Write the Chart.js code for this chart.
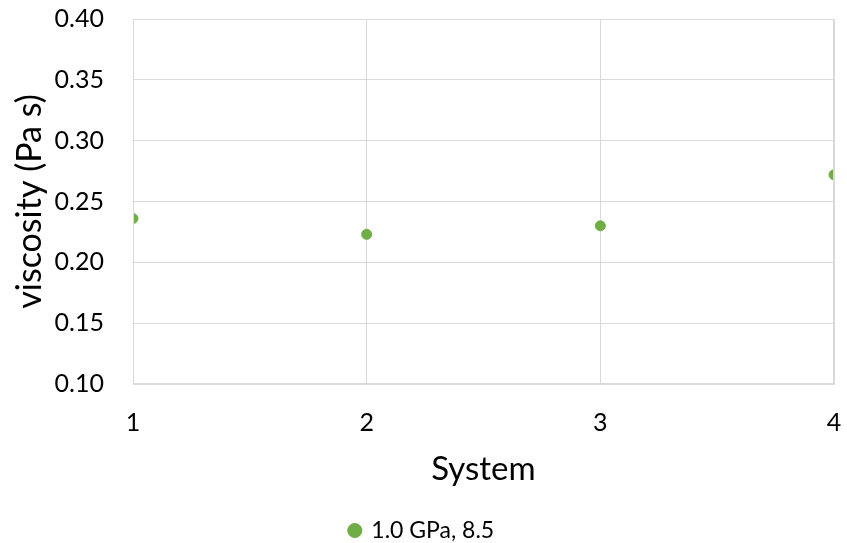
<!DOCTYPE html>
<html>
<head>
<meta charset="utf-8">
<script src="https://cdn.jsdelivr.net/npm/chart.js@4"></script>
<style>
  html, body { margin: 0; padding: 0; background: #fff; }
  #wrap { width: 847px; height: 543px; }
</style>
</head>
<body>
<div id="wrap"><canvas id="chart1"></canvas></div>
<script>
// data
var systems = [1, 2, 3, 4];
var viscosity = [0.236, 0.223, 0.230, 0.272];
var seriesName = '1.0 GPa, 8.5';

var fontFamily = "Lato, 'Open Sans', sans-serif";
var gridColor = '#d9d9d9';

var points = systems.map(function (s, i) {
    return { x: s, y: viscosity[i] };
});

var chartEl = document.getElementById('chart1');
new Chart(chartEl, {
    type: 'scatter',
    data: {
        datasets: [{
            label: seriesName,
            data: points,
            backgroundColor: '#70ad47',
            borderColor: '#70ad47',
            pointRadius: 5,
            pointHoverRadius: 5
        }]
    },
    options: {
        responsive: true,
        maintainAspectRatio: false,
        animation: false,
        layout: {
            padding: { top: 19, right: 13, bottom: -9, left: 10 }
        },
        plugins: {
            legend: {
                position: 'bottom',
                labels: {
                    usePointStyle: true,
                    pointStyle: 'circle',
                    boxWidth: 10,
                    boxHeight: 10,
                    color: '#000',
                    padding: 2,
                    font: { family: fontFamily, size: 23 }
                }
            },
            tooltip: { enabled: false }
        },
        scales: {
            x: {
                type: 'linear',
                min: 1,
                max: 4,
                ticks: {
                    stepSize: 1,
                    color: '#000',
                    padding: 24,
                    font: { family: fontFamily, size: 25 }
                },
                grid: { color: gridColor, drawTicks: false },
                border: { color: gridColor },
                title: {
                    display: true,
                    text: 'System',
                    color: '#000',
                    padding: { top: 10, bottom: 28 },
                    font: { family: fontFamily, size: 33 }
                },
                afterFit: function (scale) {
                    scale.height = 133;
                    scale.paddingLeft = 0;
                    scale.paddingRight = 0;
                }
            },
            y: {
                min: 0.10,
                max: 0.40,
                ticks: {
                    stepSize: 0.05,
                    color: '#000',
                    padding: 29,
                    font: { family: fontFamily, size: 25 },
                    callback: function (v) { return v.toFixed(2); }
                },
                grid: { color: gridColor, drawTicks: false },
                border: { color: gridColor },
                title: {
                    display: true,
                    text: 'viscosity (Pa s)',
                    color: '#000',
                    padding: { top: 0, bottom: 0 },
                    font: { family: fontFamily, size: 34 }
                },
                afterFit: function (scale) {
                    scale.width = 123;
                    scale.paddingTop = 0;
                    scale.paddingBottom = 0;
                }
            }
        }
    },
    plugins: [{
        // outline the plot area like the original
        id: 'frame',
        afterDraw: function (chart) {
            var a = chart.chartArea, ctx = chart.ctx;
            ctx.save();
            ctx.strokeStyle = gridColor;
            ctx.lineWidth = 1;
            ctx.strokeRect(a.left + 0.5, a.top + 0.5, a.right - a.left - 1, a.bottom - a.top - 1);
            ctx.restore();
        }
    }]
});
</script>
</body>
</html>
